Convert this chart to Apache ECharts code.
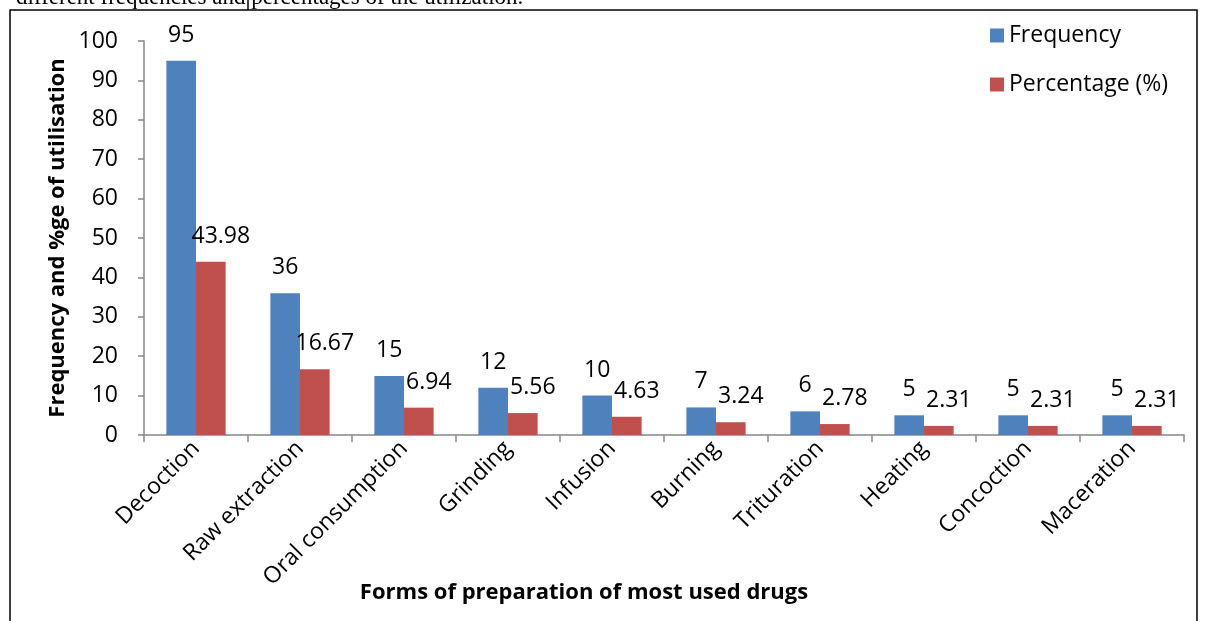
<!DOCTYPE html>
<html><head><meta charset="utf-8">
<script src="https://cdn.jsdelivr.net/npm/echarts@6/dist/echarts.min.js"></script>
<style>html,body{margin:0;padding:0;background:#fff;}#c{width:1208px;height:621px;}</style>
</head><body><div id="c"></div>
<script>
const categories = ['Decoction','Raw extraction','Oral consumption','Grinding','Infusion','Burning','Trituration','Heating','Concoction','Maceration'];
const frequency = [95,36,15,12,10,7,6,5,5,5];
const percentage = [43.98,16.67,6.94,5.56,4.63,3.24,2.78,2.31,2.31,2.31];
const yTicks = {min:0,max:100,interval:10};

const FONT = 'Open Sans';
const chart = echarts.init(document.getElementById('c'));
chart.setOption({
  backgroundColor:'#fff',
  animation:false,
  graphic:[
    {type:'rect',shape:{x:10,y:10,width:1187,height:640},style:{fill:'none',stroke:'#000',lineWidth:1.5},z:100},
    {type:'line',shape:{x1:248,y1:0,x2:248,y2:10},style:{stroke:'#000',lineWidth:1.5},z:100},
    {type:'text',left:16,top:-14,style:{text:'different frequencies and percentages of the utilization.',fontFamily:'Liberation Serif',fontSize:23,fill:'#000'},z:99},
    {type:'rect',shape:{x:0,y:11,width:1208,height:12},style:{fill:'#fff'},z:99}
  ],
  grid:{left:144,right:24,top:41,bottom:186,containLabel:false,outerBoundsMode:'none'},
  legend:{
    orient:'vertical',left:985,top:18,itemWidth:14,itemHeight:14,itemGap:24,icon:'rect',
    textStyle:{fontFamily:FONT,fontSize:23,color:'#000',lineHeight:25},
    data:['Frequency','Percentage (%)']
  },
  xAxis:{
    type:'category',data:categories,
    name:'Forms of preparation of most used drugs',nameLocation:'middle',nameGap:147,nameMoveOverlap:false,
    nameTextStyle:{fontFamily:FONT,fontSize:22,fontWeight:'bold',color:'#000',padding:[0,160,0,0]},
    axisLine:{lineStyle:{color:'#868686',width:1.5}},
    axisTick:{show:true,length:7,lineStyle:{color:'#868686',width:1.5}},
    axisLabel:{rotate:45,margin:10,fontFamily:FONT,fontSize:23,color:'#000',interval:0}
  },
  yAxis:{
    type:'value',min:yTicks.min,max:yTicks.max,interval:yTicks.interval,
    name:'Frequency and %ge of utilisation',nameLocation:'middle',nameGap:75,nameRotate:90,nameMoveOverlap:false,
    nameTextStyle:{fontFamily:FONT,fontSize:22,fontWeight:'bold',color:'#000'},
    axisLine:{show:true,lineStyle:{color:'#868686',width:1.5}},
    axisTick:{show:true,length:6,lineStyle:{color:'#868686',width:1.5}},
    splitLine:{show:false},
    axisLabel:{margin:26,fontFamily:FONT,fontSize:23,color:'#000'}
  },
  series:[
    {name:'Frequency',type:'bar',data:frequency,barGap:'0%',barCategoryGap:'43%',
     itemStyle:{color:'#4F81BD'},
     label:{show:true,position:'top',distance:14,fontFamily:FONT,fontSize:23,color:'#000'}},
    {name:'Percentage (%)',type:'bar',data:percentage,
     itemStyle:{color:'#C0504D'},
     label:{show:true,position:'top',distance:14,offset:[10,0],fontFamily:FONT,fontSize:23,color:'#000'}}
  ]
});
</script></body></html>
